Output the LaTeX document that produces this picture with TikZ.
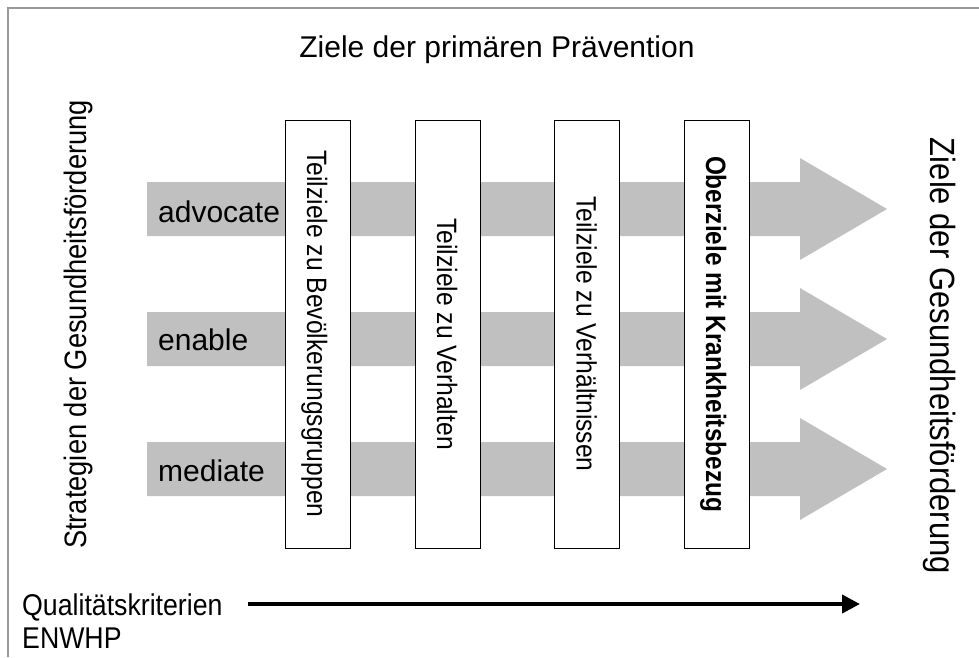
\documentclass[tikz,border=0pt]{standalone}
\usepackage{fontspec}
\setmainfont{Liberation Sans}
\usetikzlibrary{arrows.meta}
\definecolor{arrowgray}{HTML}{C0C0C0}
\definecolor{framegray}{HTML}{999999}
\newcommand{\fsz}[1]{\fontsize{#1}{#1}\selectfont}
\newcommand{\cond}[2]{\scalebox{#1}[1]{#2}}
\begin{document}
\begin{tikzpicture}[x=1pt,y=-1pt,
  goalbox/.style={draw=black, line width=0.8pt, fill=white, minimum width=65pt, minimum height=428pt, inner sep=0pt, outer sep=0pt},
  vtext/.style={rotate=-90, anchor=base, inner sep=0pt, font=\fsz{28}},
  lbl/.style={anchor=base west, inner sep=0pt, font=\fsz{30}},
  bigarrow/.style={fill=arrowgray, draw=none}]
\useasboundingbox (0,0) rectangle (979,657);
\fill[white] (0,0) rectangle (979,657);
\draw[framegray, line width=2pt] (8,657) -- (8,8) -- (979,8);

% title
\node[anchor=base, inner sep=0pt, font=\fsz{30}] (title) at (497,57) {Ziele der primären Prävention};

% grey arrows
\foreach \yy in {209,339,469}{
  \fill[bigarrow] (147,{\yy-27}) -- (800,{\yy-27}) -- (800,{\yy-51}) -- (887,\yy)
     -- (800,{\yy+51}) -- (800,{\yy+27}) -- (147,{\yy+27}) -- cycle;
}

% labels
\node[lbl] (adv) at (158,222) {advocate};
\node[lbl] (ena) at (158,350) {enable};
\node[lbl] (med) at (158,481) {mediate};

% boxes
\node[goalbox] (b1) at (317.5,334) {};
\node[goalbox] (b2) at (447.5,334) {};
\node[goalbox] (b3) at (586.5,334) {};
\node[goalbox] (b4) at (716.5,334) {};
\node[vtext] (t1) at (307,334) {\cond{0.88}{Teilziele zu Bevölkerungsgruppen}};
\node[vtext] (t2) at (437,334) {\cond{0.88}{Teilziele zu Verhalten}};
\node[vtext] (t3) at (576.5,334) {\cond{0.88}{Teilziele zu Verhältnissen}};
\node[vtext] (t4) at (706,334) {\cond{0.87}{\bfseries Oberziele mit Krankheitsbezug}};

% side texts
\node[rotate=90, anchor=base, inner sep=0pt, font=\fsz{31}] (left) at (86.5,324.5) {\cond{0.88}{Strategien der Gesundheitsförderung}};
\node[rotate=-90, anchor=base, inner sep=0pt, font=\fsz{35}] (right) at (930,356) {\cond{0.886}{Ziele der Gesundheitsförderung}};

% bottom
\node[lbl] (qual) at (22,615) {\cond{0.89}{Qualitätskriterien}};
\node[lbl] (enw) at (22,648) {\cond{0.89}{ENWHP}};
\coordinate (qstart) at (248,604);
\coordinate (qend) at (860,604);
\draw[line width=4pt, -{Triangle[length=18pt,width=18pt]}] (qstart) -- (qend);
\end{tikzpicture}
\end{document}
